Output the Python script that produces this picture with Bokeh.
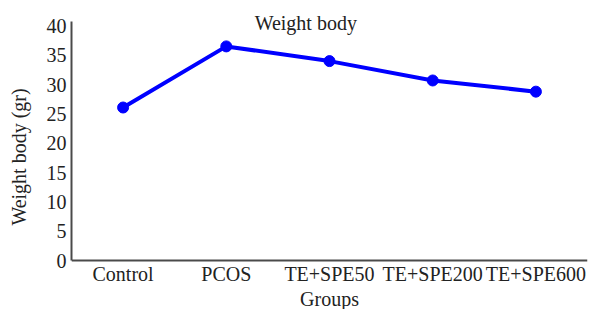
from bokeh.plotting import figure
from bokeh.models import Label
from bokeh.embed import file_html
from bokeh.resources import INLINE

groups = ["Control", "PCOS", "TE+SPE50", "TE+SPE200", "TE+SPE600"]
weights = [26.1, 36.5, 34.0, 30.7, 28.8]
y_ticks = [0, 5, 10, 15, 20, 25, 30, 35, 40]

FONT = "Liberation Serif"

# layout (canvas pixels)
W, H = 595, 309
FRAME_L, FRAME_R, FRAME_T, FRAME_B = 71, 587, 4, 305
Y0_PX, YTOP_PX, Y_AXIS_TOP = 257, 21, 40.7
scale = (Y0_PX - YTOP_PX) / Y_AXIS_TOP
y_start = -(FRAME_B - Y0_PX) / scale
y_end = Y_AXIS_TOP + (YTOP_PX - FRAME_T) / scale

p = figure(x_range=groups, y_range=(y_start, y_end), width=W, height=H,
           output_backend="svg", toolbar_location=None,
           min_border_left=FRAME_L, min_border_right=W - FRAME_R,
           min_border_top=FRAME_T, min_border_bottom=0)
p.x_range.range_padding = 0
p.outline_line_color = None
p.xgrid.grid_line_color = None
p.ygrid.grid_line_color = None

p.line(groups, weights, line_color="#0000FF", line_width=4)
p.scatter(groups, weights, size=11, fill_color="#0000FF", line_color="#0000FF")

for ax in (p.xaxis, p.yaxis):
    ax.axis_line_color = "#4a4a4a"
    ax.axis_line_width = 2
    ax.major_tick_out = 0
    ax.major_tick_in = 0
    ax.minor_tick_out = 0
    ax.minor_tick_in = 0
    ax.major_label_text_font = FONT
    ax.major_label_text_font_size = "20px"
    ax.major_label_text_color = "#222222"
    ax.axis_label_text_font = FONT
    ax.axis_label_text_font_size = "20px"
    ax.axis_label_text_font_style = "normal"
    ax.axis_label_text_color = "#222222"

p.yaxis.bounds = (0, Y_AXIS_TOP)
p.yaxis.ticker = y_ticks
p.yaxis.major_label_standoff = 5
p.yaxis.axis_label = "Weight body (gr)"
p.yaxis.axis_label_standoff = 14

p.xaxis.fixed_location = 0
p.xaxis.major_label_standoff = 2
p.xaxis.axis_label = "Groups"
p.xaxis.axis_label_standoff = 0

title = Label(x=2.27, y=40.5, text="Weight body", text_font=FONT, text_font_size="20px",
              text_align="center", text_baseline="middle", text_color="#222222")
p.add_layout(title)

open("out.html", "w").write(file_html(p, INLINE))
